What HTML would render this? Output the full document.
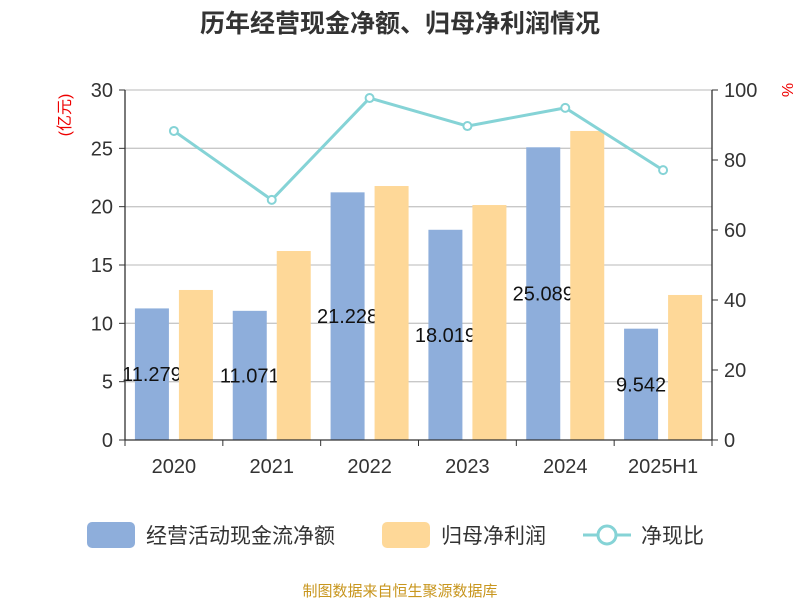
<!DOCTYPE html>
<html><head><meta charset="utf-8"><style>
body{margin:0;background:#fff;}
svg text{font-family:"Liberation Sans","Noto Sans CJK SC",sans-serif;}
</style></head><body>
<svg id="chart" width="800" height="600" xmlns="http://www.w3.org/2000/svg">
<text x="400" y="32" text-anchor="middle" font-size="25" font-weight="bold" fill="#333">历年经营现金净额、归母净利润情况</text>
<text x="70" y="115" font-size="16" fill="#e00" transform="rotate(-90 70 115)" text-anchor="middle">(亿元)</text>
<text x="782" y="90" font-size="16" fill="#e00" transform="rotate(90 782 90)" text-anchor="middle">%</text>
<g id="grid"></g><g id="bars"></g><g id="axes"></g><g id="line"></g>
<g>
<rect x="87" y="522" width="48" height="26" rx="5" fill="#8eaedb"/>
<text x="146" y="543" font-size="21" fill="#333">经营活动现金流净额</text>
<rect x="382" y="522" width="48" height="26" rx="5" fill="#fed898"/>
<text x="441" y="543" font-size="21" fill="#333">归母净利润</text>
<line x1="583" y1="535" x2="631" y2="535" stroke="#85d3d6" stroke-width="3"/>
<circle cx="607" cy="535" r="9" fill="#fff" stroke="#85d3d6" stroke-width="3"/>
<text x="641" y="543" font-size="21" fill="#333">净现比</text>
</g>
<text x="400" y="596" text-anchor="middle" font-size="15" fill="#c8961e">制图数据来自恒生聚源数据库</text>
</svg>
<script>
const categories=["2020","2021","2022","2023","2024","2025H1"];
const cashflow=[11.279,11.071,21.228,18.019,25.089,9.542];
const profit=[12.86,16.2,21.77,20.14,26.49,12.43];
const ratio=[88.3,68.6,97.7,89.7,94.9,77.1];
const leftTicks=[0,5,10,15,20,25,30];
const rightTicks=[0,20,40,60,80,100];
const NS="http://www.w3.org/2000/svg";
const X0=125,X1=712,Y0=440,Y1=90;
const band=(X1-X0)/categories.length;
const yL=v=>Y0-(v/30)*(Y0-Y1);
const yR=v=>Y0-(v/100)*(Y0-Y1);
const cx=i=>X0+band*(i+0.5);
function mk(tag,attrs,parent,txt){const e=document.createElementNS(NS,tag);for(const k in attrs)e.setAttribute(k,attrs[k]);if(txt!==undefined)e.textContent=txt;document.getElementById(parent).appendChild(e);return e;}
leftTicks.forEach(t=>{
 if(t>0){const g=mk('line',{x1:X0,x2:X1,y1:yL(t),y2:yL(t),stroke:'#c8c8c8','stroke-width':1.3},'grid');
 
 }
 const tk=mk('line',{x1:X0-6,x2:X0,y1:yL(t),y2:yL(t),stroke:'#333'},'axes');
 
 
 const l=mk('text',{x:X0-12,y:yL(t)+7,'text-anchor':'end','font-size':20,fill:'#333'},'axes',String(t));
 
 
});
rightTicks.forEach(t=>{
 const tk=mk('line',{x1:X1,x2:X1+6,y1:yR(t),y2:yR(t),stroke:'#333'},'axes');
 
 
 const l=mk('text',{x:X1+12,y:yR(t)+7,'font-size':20,fill:'#333'},'axes',String(t));
 
 
});
let a=mk('line',{x1:X0,x2:X0,y1:Y1,y2:Y0,stroke:'#333','stroke-width':1.3},'axes');


a=mk('line',{x1:X1,x2:X1,y1:Y1,y2:Y0,stroke:'#333','stroke-width':1.3},'axes');


a=mk('line',{x1:X0,x2:X1,y1:Y0,y2:Y0,stroke:'#333','stroke-width':1.3},'axes');


for(let i=0;i<=categories.length;i++){const t=mk('line',{x1:X0+band*i,x2:X0+band*i,y1:Y0,y2:Y0+6,stroke:'#333'},'axes');
 
 }
categories.forEach((c,i)=>{
 const l=mk('text',{x:cx(i),y:Y0+33,'text-anchor':'middle','font-size':20,fill:'#333'},'axes',c);
 
 
 const b=mk('rect',{x:cx(i)-39,y:yL(cashflow[i]),width:34,height:Y0-yL(cashflow[i]),fill:'#8eaedb'},'bars');
 
 
 const v=mk('text',{x:cx(i)-22,y:(yL(cashflow[i])+Y0)/2+7,'text-anchor':'middle','font-size':20,fill:'#111'},'bars',cashflow[i].toFixed(3));
 
 
});
categories.forEach((c,i)=>{
 const b=mk('rect',{x:cx(i)+5,y:yL(profit[i]),width:34,height:Y0-yL(profit[i]),fill:'#fed898'},'bars');
 
 
});
const p=mk('polyline',{points:ratio.map((v,i)=>cx(i)+','+yR(v)).join(' '),fill:'none',stroke:'#85d3d6','stroke-width':3},'line');


ratio.forEach((v,i)=>{const m=mk('circle',{cx:cx(i),cy:yR(v),r:4,fill:'#fff',stroke:'#85d3d6','stroke-width':2},'line');
 
 });
</script>
</body></html>
